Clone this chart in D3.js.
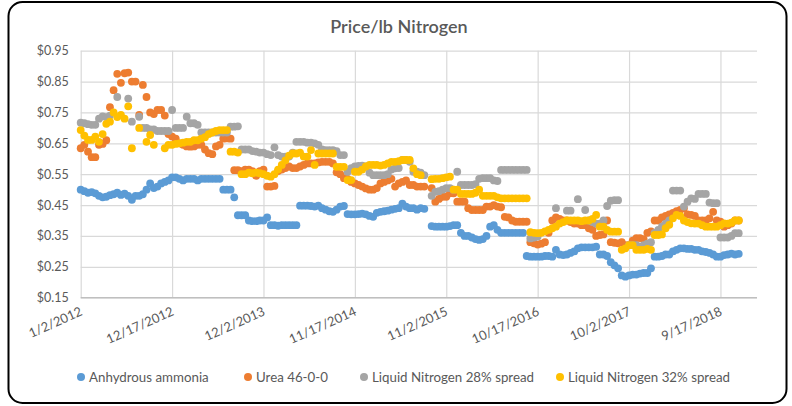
<!DOCTYPE html>
<html>
<head>
<meta charset="utf-8">
<script src="https://cdn.jsdelivr.net/npm/d3@7"></script>
<style>
  html, body { margin: 0; padding: 0; background: #fff; }
  svg { display: block; }
  text { font-family: Lato, "Liberation Sans", sans-serif; }
</style>
</head>
<body>
<svg id="chart" width="792" height="406"></svg>
<script>
// ---------- DATA ----------
const title = "Price/lb Nitrogen";
const seriesNames = ["Anhydrous ammonia", "Urea 46-0-0", "Liquid Nitrogen 28% spread", "Liquid Nitrogen 32% spread"];
const seriesColors = ["#5B9BD5", "#ED7D31", "#A5A5A5", "#FFC000"];
const startDate = "2012-01-02";      // first observation
const stepDays = 14;                  // one value every two weeks
const axisEndDate = "2019-02-04";
const xTickLabels = ["1/2/2012", "12/17/2012", "12/2/2013", "11/17/2014", "11/2/2015", "10/17/2016", "10/2/2017", "9/17/2018"];
const yTickValues = [0.15, 0.25, 0.35, 0.45, 0.55, 0.65, 0.75, 0.85, 0.95];

const anhydrous = [
 .50,.495,.49,.492,.488,.48,.475,.477,.482,.485,
 .49,.483,.487,.48,.467,.48,.48,.485,.50,.52,
 .505,.51,.52,.525,.53,.54,.54,.535,.53,.535,
 .535,.535,.53,.535,.535,.535,.535,.535,.535,.50,
 .50,.50,.475,.417,.417,.417,.40,.398,.398,.40,
 .40,.41,.385,.385,.383,.385,.385,.385,.385,.385,
 .448,.448,.448,.447,.445,.448,.44,.435,.43,.428,
 .435,.445,.447,.421,.42,.42,.421,.422,.42,.415,
 .412,.425,.428,.43,.432,.435,.438,.44,.455,.445,
 .44,.44,.435,.44,.438,null,.382,.38,.38,.38,
 .38,.382,.385,.385,.36,.35,.35,.345,.34,.337,
 .34,.35,.38,.385,.37,.36,.36,.36,.36,.36,
 .36,.36,.285,.283,.283,.283,.283,.285,.285,.283,
 .305,.29,.288,.29,.295,.30,.31,.313,.313,.313,
 .313,.315,.29,.29,.285,.265,.255,.245,.222,.218,
 .222,.225,.225,.228,.23,.23,.245,.283,.283,.285,
 .29,.29,.30,.305,.31,.31,.308,.308,.305,.305,
 .30,.298,.295,.29,.283,.283,.288,.29,.293,.29,.292
];
const urea = [
 .634,.645,.623,.605,.605,.645,.648,.66,.767,.822,
 .875,.846,.877,.879,.85,.85,.742,.839,.80,.75,
 .745,.758,.758,.74,.68,.672,.665,.65,.645,.64,
 .639,.64,.645,.645,.63,.618,.615,.64,.645,.665,
 .666,.665,.563,.563,.56,.565,.565,.56,.545,.56,
 .565,.51,.51,.512,.56,.565,.57,.575,.57,.57,
 .575,.58,.585,.585,.585,.588,.59,.59,.59,.585,
 .556,.55,.537,.535,.525,.52,.515,.51,.504,.50,
 .50,.505,.52,.525,.53,.535,.51,.52,.525,.53,
 .515,.515,.51,.51,.51,null,.505,.461,.47,.477,
 .477,.488,.488,.461,.461,.461,.44,.434,.434,.434,
 .434,.445,.445,.45,.445,.443,.412,.41,.40,.396,
 .396,.396,.396,.33,.326,.322,.325,.33,.36,.40,
 .41,.405,.40,.40,.395,.39,.39,.385,.385,.375,
 .37,.35,.353,.355,.40,.33,.328,.326,.33,.32,
 .32,.335,.343,.343,.34,.36,.365,.40,.40,.41,
 .415,.42,.425,.43,.434,.44,.42,.418,.415,.40,
 .40,.40,.407,.428,.40,.396,.38,.385,.39,.40,.40
];
const liquid28 = [
 .717,.715,.712,.71,.71,.73,.737,.735,.74,null,
 .80,null,null,.795,.72,null,.736,.70,.70,.695,
 .695,.69,.69,.69,.69,.758,.70,.70,.70,.736,
 .715,.715,.71,.685,.685,.685,.685,.685,.685,.685,
 .685,.704,.704,.705,.63,.63,.63,.625,.623,.62,
 .62,.615,.612,.637,.612,.607,.607,.607,.62,.655,
 .655,.655,.652,.652,.65,.645,.63,.628,.628,.628,
 .625,.612,.612,.558,.57,.575,.577,.578,.575,.555,
 .547,.547,.547,.547,.55,.565,.569,.57,.596,.596,
 .59,.558,.558,.555,.547,null,.48,.493,.495,.50,
 .505,.505,.50,.558,.515,.515,.515,.515,.518,.535,
 .537,.537,.537,.53,.528,.564,.564,.564,.564,.564,
 .564,.564,.564,.342,.345,.348,null,null,null,null,
 .44,null,null,.432,.432,null,.469,null,.434,.40,
 .395,.39,.39,.40,.447,.464,.466,.466,null,null,
 .32,.32,.32,.315,.32,.325,.33,.36,.37,.38,
 .39,.40,.497,.497,.497,.445,.461,.472,.47,.486,
 .486,.486,.458,.456,.456,.345,.345,.345,.35,.359,.359
];
const liquid32 = [
 .693,.675,.661,.661,.672,.655,.68,.713,.72,.75,
 .735,.742,.73,.77,.634,null,.70,null,.655,.677,
 .645,null,null,.634,.645,.645,.648,.65,.652,.655,
 .655,.66,.66,.665,.67,.68,.685,.69,.693,.693,
 .693,.623,.623,.62,.55,.55,.555,.553,.555,.553,
 .55,.545,.542,.55,.565,.58,.595,.61,.617,.617,
 .62,.607,.607,.628,.58,.617,.617,.617,.617,.617,
 .574,.574,.574,.531,.531,.558,.558,.565,.575,.58,
 .58,.58,.578,.58,.585,.59,.59,.592,.596,.596,
 .596,.569,.55,.547,null,null,.534,.535,.535,.537,
 .54,.542,.50,.50,.486,.486,.486,.486,.49,.50,
 .48,.48,.48,.48,.475,.472,.472,.472,.472,.472,
 .472,.472,.472,.362,.36,.359,.36,.365,.37,.375,
 .38,.39,.395,.40,.40,.40,.40,.398,.40,.40,
 .405,.418,.38,.38,.37,.364,.364,.364,.305,.31,
 .32,.32,.305,.305,.305,.308,.305,.353,.353,.355,
 .375,.386,.407,.418,.415,.40,.395,.391,.39,.39,
 .385,.38,.38,.38,.38,.385,.391,.39,.393,.40,.40
];
const seriesValues = [anhydrous, urea, liquid28, liquid32];

// ---------- LAYOUT ----------
const W = 792, H = 406;
const plot = { left: 80.7, right: 757, top: 50.7, bottom: 297.7 };
const legendX = [81, 248, 364, 560];
const legendY = 377;

const svg = d3.select("#chart");
const parse = d3.utcParse("%Y-%m-%d");
const parseTick = d3.utcParse("%m/%d/%Y");
const t0 = parse(startDate);
const dateOf = i => d3.utcDay.offset(t0, i * stepDays);

const x = d3.scaleUtc().domain([t0, parse(axisEndDate)]).range([plot.left, plot.right]);
const y = d3.scaleLinear().domain([0.15, 0.95]).range([plot.bottom, plot.top]);
const xTicks = xTickLabels.map(parseTick);

// background + border
svg.append("rect").attr("x", 0).attr("y", 0).attr("width", W).attr("height", H).attr("fill", "#fff");
svg.append("rect").attr("x", 8.5).attr("y", 2).attr("width", 778).attr("height", 401)
  .attr("rx", 14).attr("ry", 14).attr("fill", "#fff").attr("stroke", "#000").attr("stroke-width", 2);

// title
svg.append("text").attr("x", 399).attr("y", 33).attr("text-anchor", "middle")
  .attr("fill", "#595959").style("font-size", "18px").style("font-weight", "600").text(title);

// horizontal gridlines via axis
const yGrid = svg.append("g").attr("transform", `translate(${plot.left},0)`)
  .call(d3.axisLeft(y).tickValues(yTickValues).tickSize(-(plot.right - plot.left)).tickFormat(""));
yGrid.select(".domain").remove();
yGrid.selectAll("line").attr("stroke", "#D9D9D9").attr("stroke-width", 1.2);

// vertical gridlines via axis
const xGrid = svg.append("g").attr("transform", `translate(0,${plot.bottom})`)
  .call(d3.axisBottom(x).tickValues(xTicks).tickSize(-(plot.bottom - plot.top)).tickFormat(""));
xGrid.select(".domain").remove();
xGrid.selectAll("line").attr("stroke", "#D9D9D9").attr("stroke-width", 1.2);

// bottom axis line
svg.append("line").attr("x1", plot.left).attr("x2", plot.right)
  .attr("y1", plot.bottom).attr("y2", plot.bottom).attr("stroke", "#BFBFBF").attr("stroke-width", 1.2);

// y labels
const yAx = svg.append("g").attr("transform", `translate(${plot.left},0)`)
  .call(d3.axisLeft(y).tickValues(yTickValues).tickSize(0).tickPadding(12).tickFormat(d3.format("$.2f")));
yAx.select(".domain").remove();
yAx.selectAll("text").attr("fill", "#595959").style("font-size", "12.5px")
  .style("font-family", "Lato, 'Liberation Sans', sans-serif");

// x labels (rotated)
const xAx = svg.append("g").attr("transform", `translate(0,${plot.bottom})`)
  .call(d3.axisBottom(x).tickValues(xTicks).tickSize(0).tickFormat(d3.utcFormat("%-m/%-d/%Y")));
xAx.select(".domain").remove();
xAx.selectAll("text")
  .attr("fill", "#595959").style("font-size", "13px")
  .style("font-family", "Lato, 'Liberation Sans', sans-serif")
  .attr("text-anchor", "end").attr("dy", null).attr("y", 0)
  .attr("transform", "translate(2,17) rotate(-24)");

// series
const r = 3.9;
seriesValues.forEach((vals, s) => {
  const pts = vals.map((v, i) => ({ d: dateOf(i), v })).filter(p => p.v !== null);
  svg.append("g").selectAll("circle").data(pts).join("circle")
    .attr("cx", p => x(p.d)).attr("cy", p => y(p.v)).attr("r", r)
    .attr("fill", seriesColors[s]);
});

// legend
const lg = svg.append("g");
seriesNames.forEach((name, s) => {
  lg.append("circle").attr("cx", legendX[s]).attr("cy", legendY).attr("r", 4).attr("fill", seriesColors[s]);
  lg.append("text").attr("x", legendX[s] + 8).attr("y", legendY + 4.5)
    .attr("fill", "#595959").style("font-size", "13.3px").text(name);
});
</script>
</body>
</html>
